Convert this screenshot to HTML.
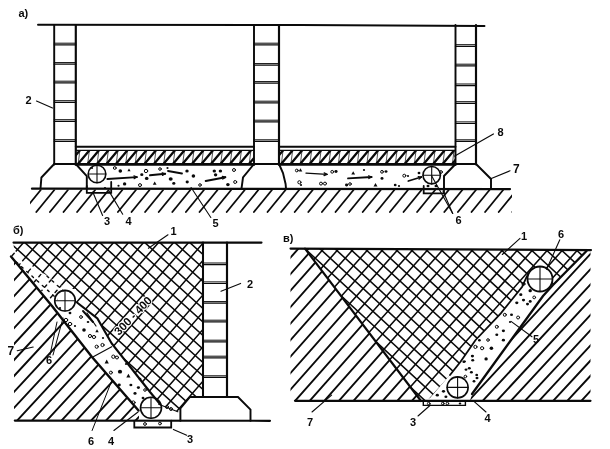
<!DOCTYPE html><html><head><meta charset="utf-8"><style>html,body{margin:0;padding:0;background:#fff;width:610px;height:449px;overflow:hidden}svg{display:block;will-change:transform}</style></head><body><svg width="610" height="449" viewBox="0 0 610 449" stroke="#0a0a0a" stroke-linecap="round" fill="none" font-family="'Liberation Sans', sans-serif"><defs><clipPath id="ga"><polygon points="30,189.5 512,189.5 512,213 30,213"/></clipPath><clipPath id="s1a"><polygon points="75.8,151 254,151 254,163.5 75.8,163.5"/></clipPath><clipPath id="s1b"><polygon points="75.8,151 254,151 254,163.5 75.8,163.5"/></clipPath><clipPath id="s2a"><polygon points="279,151 455.5,151 455.5,163.5 279,163.5"/></clipPath><clipPath id="s2b"><polygon points="279,151 455.5,151 455.5,163.5 279,163.5"/></clipPath><clipPath id="sb"><polygon points="11,256.5 92,357 139,411 139,420 14,420 14,258"/></clipPath><clipPath id="cb1"><polygon points="13.5,243 203,243 203,397 190,397 180.4,408.5 177.8,411.7 160,404 150,392 111.7,343.5 97.4,318.5 77,302.5 68,290 30,264 14,250 13.5,243"/></clipPath><clipPath id="cb2"><polygon points="13.5,243 203,243 203,397 190,397 180.4,408.5 177.8,411.7 160,404 150,392 111.7,343.5 97.4,318.5 77,302.5 68,290 30,264 14,250 13.5,243"/></clipPath><clipPath id="cbb1"><polygon points="11,250 14,250 30,264 68,290 62,292 54,305 11,256.5"/></clipPath><clipPath id="cbb2"><polygon points="11,250 14,250 30,264 68,290 62,292 54,305 11,256.5"/></clipPath><clipPath id="sv1"><polygon points="290.5,248.6 305,248.6 421,401 295,401 290.5,401"/></clipPath><clipPath id="sv2"><polygon points="586.5,251 553,285 543,296 472,394 470,401 590.5,401 590.5,251"/></clipPath><clipPath id="cv1"><polygon points="305,248.6 591,250 586.5,251 553,285 541,266 527,276 522.2,286.7 500.8,313.4 475.4,340.2 460.7,361.5 448,377 430,398 423,400.8 421,401"/></clipPath><clipPath id="cv2"><polygon points="305,248.6 591,250 586.5,251 553,285 541,266 527,276 522.2,286.7 500.8,313.4 475.4,340.2 460.7,361.5 448,377 430,398 423,400.8 421,401"/></clipPath></defs><rect width="610" height="449" fill="#fff" stroke="none"/><text x="18.5" y="17" font-size="11" font-weight="bold" stroke="none" fill="#0a0a0a">а)</text><polyline points="38,24.8 300,25 484.5,26" stroke-width="1.92" fill="none"/><g clip-path="url(#ga)" stroke-width="1.8"><line x1="13.5" y1="190" x2="-4.5" y2="212"/><line x1="27.1" y1="190" x2="9.1" y2="212"/><line x1="40.7" y1="190" x2="22.7" y2="212"/><line x1="54.3" y1="190" x2="36.3" y2="212"/><line x1="67.9" y1="190" x2="49.9" y2="212"/><line x1="81.5" y1="190" x2="63.5" y2="212"/><line x1="95.1" y1="190" x2="77.1" y2="212"/><line x1="108.7" y1="190" x2="90.7" y2="212"/><line x1="122.3" y1="190" x2="104.3" y2="212"/><line x1="135.9" y1="190" x2="117.9" y2="212"/><line x1="149.5" y1="190" x2="131.5" y2="212"/><line x1="163.1" y1="190" x2="145.1" y2="212"/><line x1="176.7" y1="190" x2="158.7" y2="212"/><line x1="190.3" y1="190" x2="172.3" y2="212"/><line x1="203.9" y1="190" x2="185.9" y2="212"/><line x1="217.5" y1="190" x2="199.5" y2="212"/><line x1="231.1" y1="190" x2="213.1" y2="212"/><line x1="244.7" y1="190" x2="226.7" y2="212"/><line x1="258.3" y1="190" x2="240.3" y2="212"/><line x1="271.9" y1="190" x2="253.9" y2="212"/><line x1="285.5" y1="190" x2="267.5" y2="212"/><line x1="299.1" y1="190" x2="281.1" y2="212"/><line x1="312.7" y1="190" x2="294.7" y2="212"/><line x1="326.3" y1="190" x2="308.3" y2="212"/><line x1="339.9" y1="190" x2="321.9" y2="212"/><line x1="353.5" y1="190" x2="335.5" y2="212"/><line x1="367.1" y1="190" x2="349.1" y2="212"/><line x1="380.7" y1="190" x2="362.7" y2="212"/><line x1="394.3" y1="190" x2="376.3" y2="212"/><line x1="407.9" y1="190" x2="389.9" y2="212"/><line x1="421.5" y1="190" x2="403.5" y2="212"/><line x1="435.1" y1="190" x2="417.1" y2="212"/><line x1="448.7" y1="190" x2="430.7" y2="212"/><line x1="462.3" y1="190" x2="444.3" y2="212"/><line x1="475.9" y1="190" x2="457.9" y2="212"/><line x1="489.5" y1="190" x2="471.5" y2="212"/><line x1="503.1" y1="190" x2="485.1" y2="212"/><line x1="516.7" y1="190" x2="498.7" y2="212"/><line x1="530.3" y1="190" x2="512.3" y2="212"/><line x1="543.9" y1="190" x2="525.9" y2="212"/><line x1="557.5" y1="190" x2="539.5" y2="212"/></g><line x1="32" y1="188.7" x2="510" y2="189.1" stroke-width="2.28"/><line x1="54.2" y1="25" x2="54.2" y2="164.5" stroke-width="1.92"/><line x1="75.8" y1="25" x2="75.8" y2="164.5" stroke-width="2.16"/><line x1="54.2" y1="43.2" x2="75.8" y2="43.2" stroke-width="1.0"/><line x1="54.2" y1="44.8" x2="75.8" y2="44.8" stroke-width="1.2"/><line x1="54.2" y1="62.6" x2="75.8" y2="62.6" stroke-width="1.0"/><line x1="54.2" y1="64.2" x2="75.8" y2="64.2" stroke-width="1.2"/><line x1="54.2" y1="81.2" x2="75.8" y2="81.2" stroke-width="1.0"/><line x1="54.2" y1="82.8" x2="75.8" y2="82.8" stroke-width="1.2"/><line x1="54.2" y1="100.7" x2="75.8" y2="100.7" stroke-width="1.0"/><line x1="54.2" y1="102.3" x2="75.8" y2="102.3" stroke-width="1.2"/><line x1="54.2" y1="119.7" x2="75.8" y2="119.7" stroke-width="1.0"/><line x1="54.2" y1="121.3" x2="75.8" y2="121.3" stroke-width="1.2"/><line x1="54.2" y1="139.7" x2="75.8" y2="139.7" stroke-width="1.0"/><line x1="54.2" y1="141.3" x2="75.8" y2="141.3" stroke-width="1.2"/><line x1="54.2" y1="164" x2="75.8" y2="164" stroke-width="1.92"/><line x1="254" y1="25" x2="254" y2="164.5" stroke-width="1.92"/><line x1="279" y1="25" x2="279" y2="164.5" stroke-width="2.16"/><line x1="254" y1="43.2" x2="279" y2="43.2" stroke-width="1.0"/><line x1="254" y1="44.8" x2="279" y2="44.8" stroke-width="1.2"/><line x1="254" y1="63.6" x2="279" y2="63.6" stroke-width="1.0"/><line x1="254" y1="65.2" x2="279" y2="65.2" stroke-width="1.2"/><line x1="254" y1="81.6" x2="279" y2="81.6" stroke-width="1.0"/><line x1="254" y1="83.2" x2="279" y2="83.2" stroke-width="1.2"/><line x1="254" y1="101.2" x2="279" y2="101.2" stroke-width="1.0"/><line x1="254" y1="102.8" x2="279" y2="102.8" stroke-width="1.2"/><line x1="254" y1="120.2" x2="279" y2="120.2" stroke-width="1.0"/><line x1="254" y1="121.8" x2="279" y2="121.8" stroke-width="1.2"/><line x1="254" y1="139.8" x2="279" y2="139.8" stroke-width="1.0"/><line x1="254" y1="141.4" x2="279" y2="141.4" stroke-width="1.2"/><line x1="254" y1="164" x2="279" y2="164" stroke-width="1.92"/><line x1="455.5" y1="25" x2="455.5" y2="164.5" stroke-width="1.92"/><line x1="476" y1="25" x2="476" y2="164.5" stroke-width="2.16"/><line x1="455.5" y1="44.7" x2="476" y2="44.7" stroke-width="1.0"/><line x1="455.5" y1="46.3" x2="476" y2="46.3" stroke-width="1.2"/><line x1="455.5" y1="64.2" x2="476" y2="64.2" stroke-width="1.0"/><line x1="455.5" y1="65.8" x2="476" y2="65.8" stroke-width="1.2"/><line x1="455.5" y1="84" x2="476" y2="84" stroke-width="1.0"/><line x1="455.5" y1="85.6" x2="476" y2="85.6" stroke-width="1.2"/><line x1="455.5" y1="101.7" x2="476" y2="101.7" stroke-width="1.0"/><line x1="455.5" y1="103.3" x2="476" y2="103.3" stroke-width="1.2"/><line x1="455.5" y1="121.9" x2="476" y2="121.9" stroke-width="1.0"/><line x1="455.5" y1="123.5" x2="476" y2="123.5" stroke-width="1.2"/><line x1="455.5" y1="139.8" x2="476" y2="139.8" stroke-width="1.0"/><line x1="455.5" y1="141.4" x2="476" y2="141.4" stroke-width="1.2"/><line x1="455.5" y1="164" x2="476" y2="164" stroke-width="1.92"/><polyline points="54.2,164 41.4,177.5 40.5,188.6" stroke-width="1.92" fill="none"/><polyline points="75.8,164 86.8,176 86.8,188.6" stroke-width="1.92" fill="none"/><polyline points="254,164 243,177.5 241.5,188.6" stroke-width="1.92" fill="none"/><polyline points="279,164 283,173 285.6,184 286,188.6" stroke-width="1.92" fill="none"/><polyline points="455.6,164 444,176 444,188.8" stroke-width="1.92" fill="none"/><polyline points="476,164 491,179 491,188.6" stroke-width="1.92" fill="none"/><line x1="75.8" y1="146.8" x2="254" y2="146.8" stroke-width="1.92"/><line x1="75.8" y1="150.4" x2="254" y2="150.4" stroke-width="1.2"/><g clip-path="url(#s1a)" stroke-width="2.3"><line x1="62" y1="149" x2="48.2" y2="165.5"/><line x1="71.5" y1="149" x2="57.7" y2="165.5"/><line x1="81" y1="149" x2="67.2" y2="165.5"/><line x1="90.5" y1="149" x2="76.7" y2="165.5"/><line x1="100" y1="149" x2="86.2" y2="165.5"/><line x1="109.5" y1="149" x2="95.7" y2="165.5"/><line x1="119" y1="149" x2="105.2" y2="165.5"/><line x1="128.5" y1="149" x2="114.7" y2="165.5"/><line x1="138" y1="149" x2="124.2" y2="165.5"/><line x1="147.5" y1="149" x2="133.7" y2="165.5"/><line x1="157" y1="149" x2="143.2" y2="165.5"/><line x1="166.5" y1="149" x2="152.7" y2="165.5"/><line x1="176" y1="149" x2="162.2" y2="165.5"/><line x1="185.5" y1="149" x2="171.7" y2="165.5"/><line x1="195" y1="149" x2="181.2" y2="165.5"/><line x1="204.5" y1="149" x2="190.7" y2="165.5"/><line x1="214" y1="149" x2="200.2" y2="165.5"/><line x1="223.5" y1="149" x2="209.7" y2="165.5"/><line x1="233" y1="149" x2="219.2" y2="165.5"/><line x1="242.5" y1="149" x2="228.7" y2="165.5"/><line x1="252" y1="149" x2="238.2" y2="165.5"/><line x1="261.5" y1="149" x2="247.7" y2="165.5"/><line x1="271" y1="149" x2="257.2" y2="165.5"/><line x1="280.5" y1="149" x2="266.7" y2="165.5"/></g><g clip-path="url(#s1b)" stroke-width="0.7"><line x1="61" y1="149" x2="59" y2="165.5"/><line x1="70.5" y1="149" x2="68.5" y2="165.5"/><line x1="80" y1="149" x2="78" y2="165.5"/><line x1="89.5" y1="149" x2="87.5" y2="165.5"/><line x1="99" y1="149" x2="97" y2="165.5"/><line x1="108.5" y1="149" x2="106.5" y2="165.5"/><line x1="118.1" y1="149" x2="116" y2="165.5"/><line x1="127.6" y1="149" x2="125.5" y2="165.5"/><line x1="137.1" y1="149" x2="135" y2="165.5"/><line x1="146.6" y1="149" x2="144.5" y2="165.5"/><line x1="156.1" y1="149" x2="154" y2="165.5"/><line x1="165.6" y1="149" x2="163.5" y2="165.5"/><line x1="175.1" y1="149" x2="173" y2="165.5"/><line x1="184.6" y1="149" x2="182.5" y2="165.5"/><line x1="194.1" y1="149" x2="192" y2="165.5"/><line x1="203.6" y1="149" x2="201.5" y2="165.5"/><line x1="213.1" y1="149" x2="211" y2="165.5"/><line x1="222.6" y1="149" x2="220.5" y2="165.5"/><line x1="232.1" y1="149" x2="230" y2="165.5"/><line x1="241.6" y1="149" x2="239.5" y2="165.5"/><line x1="251.1" y1="149" x2="249" y2="165.5"/><line x1="260.6" y1="149" x2="258.5" y2="165.5"/><line x1="270.1" y1="149" x2="268" y2="165.5"/></g><line x1="75.8" y1="164.4" x2="254" y2="164.4" stroke-width="2.64"/><line x1="279" y1="146.8" x2="455.5" y2="146.8" stroke-width="1.92"/><line x1="279" y1="150.4" x2="455.5" y2="150.4" stroke-width="1.2"/><g clip-path="url(#s2a)" stroke-width="2.3"><line x1="265.2" y1="149" x2="251.4" y2="165.5"/><line x1="274.7" y1="149" x2="260.9" y2="165.5"/><line x1="284.2" y1="149" x2="270.4" y2="165.5"/><line x1="293.7" y1="149" x2="279.9" y2="165.5"/><line x1="303.2" y1="149" x2="289.4" y2="165.5"/><line x1="312.7" y1="149" x2="298.9" y2="165.5"/><line x1="322.2" y1="149" x2="308.4" y2="165.5"/><line x1="331.7" y1="149" x2="317.9" y2="165.5"/><line x1="341.2" y1="149" x2="327.4" y2="165.5"/><line x1="350.7" y1="149" x2="336.9" y2="165.5"/><line x1="360.2" y1="149" x2="346.4" y2="165.5"/><line x1="369.7" y1="149" x2="355.9" y2="165.5"/><line x1="379.2" y1="149" x2="365.4" y2="165.5"/><line x1="388.7" y1="149" x2="374.9" y2="165.5"/><line x1="398.2" y1="149" x2="384.4" y2="165.5"/><line x1="407.7" y1="149" x2="393.9" y2="165.5"/><line x1="417.2" y1="149" x2="403.4" y2="165.5"/><line x1="426.7" y1="149" x2="412.9" y2="165.5"/><line x1="436.2" y1="149" x2="422.4" y2="165.5"/><line x1="445.7" y1="149" x2="431.9" y2="165.5"/><line x1="455.2" y1="149" x2="441.4" y2="165.5"/><line x1="464.7" y1="149" x2="450.9" y2="165.5"/><line x1="474.2" y1="149" x2="460.4" y2="165.5"/><line x1="483.7" y1="149" x2="469.9" y2="165.5"/></g><g clip-path="url(#s2b)" stroke-width="0.7"><line x1="264.2" y1="149" x2="262.2" y2="165.5"/><line x1="273.8" y1="149" x2="271.7" y2="165.5"/><line x1="283.2" y1="149" x2="281.2" y2="165.5"/><line x1="292.8" y1="149" x2="290.7" y2="165.5"/><line x1="302.2" y1="149" x2="300.2" y2="165.5"/><line x1="311.8" y1="149" x2="309.7" y2="165.5"/><line x1="321.2" y1="149" x2="319.2" y2="165.5"/><line x1="330.8" y1="149" x2="328.7" y2="165.5"/><line x1="340.2" y1="149" x2="338.2" y2="165.5"/><line x1="349.8" y1="149" x2="347.7" y2="165.5"/><line x1="359.2" y1="149" x2="357.2" y2="165.5"/><line x1="368.8" y1="149" x2="366.7" y2="165.5"/><line x1="378.2" y1="149" x2="376.2" y2="165.5"/><line x1="387.8" y1="149" x2="385.7" y2="165.5"/><line x1="397.2" y1="149" x2="395.2" y2="165.5"/><line x1="406.8" y1="149" x2="404.7" y2="165.5"/><line x1="416.2" y1="149" x2="414.2" y2="165.5"/><line x1="425.8" y1="149" x2="423.7" y2="165.5"/><line x1="435.2" y1="149" x2="433.2" y2="165.5"/><line x1="444.8" y1="149" x2="442.7" y2="165.5"/><line x1="454.2" y1="149" x2="452.2" y2="165.5"/><line x1="463.8" y1="149" x2="461.7" y2="165.5"/><line x1="473.2" y1="149" x2="471.2" y2="165.5"/></g><line x1="279" y1="164.4" x2="455.5" y2="164.4" stroke-width="2.64"/><circle cx="114.8" cy="168" r="1.4" fill="none" stroke-width="1"/><ellipse cx="120.3" cy="171" rx="1.8" ry="1.7" fill="#0a0a0a" stroke="none"/><circle cx="146" cy="171" r="1.7" fill="none" stroke-width="1"/><ellipse cx="141.8" cy="174.7" rx="1.6" ry="1.4" fill="#0a0a0a" stroke="none"/><ellipse cx="146.7" cy="178.4" rx="1.8" ry="1.7" fill="#0a0a0a" stroke="none"/><ellipse cx="170.7" cy="179" rx="2" ry="1.8" fill="#0a0a0a" stroke="none"/><ellipse cx="124.6" cy="183.9" rx="1.7" ry="1.6" fill="#0a0a0a" stroke="none"/><circle cx="140" cy="185.1" r="1.5" fill="none" stroke-width="1"/><polygon points="154.7,181.4 156.6,184.8 152.8,184.8" fill="#0a0a0a" stroke="none"/><ellipse cx="118.5" cy="185.8" rx="1.1" ry="1" fill="#0a0a0a" stroke="none"/><ellipse cx="167.5" cy="168" rx="1.1" ry="1" fill="#0a0a0a" stroke="none"/><ellipse cx="187" cy="171" rx="1.7" ry="1.6" fill="#0a0a0a" stroke="none"/><ellipse cx="193.4" cy="176" rx="1.8" ry="1.7" fill="#0a0a0a" stroke="none"/><ellipse cx="173.8" cy="183.4" rx="1.6" ry="1.4" fill="#0a0a0a" stroke="none"/><ellipse cx="187.2" cy="182" rx="1.6" ry="1.4" fill="#0a0a0a" stroke="none"/><ellipse cx="214.3" cy="171" rx="1.7" ry="1.6" fill="#0a0a0a" stroke="none"/><ellipse cx="220.4" cy="171" rx="1.7" ry="1.6" fill="#0a0a0a" stroke="none"/><ellipse cx="215.6" cy="174.8" rx="1.7" ry="1.6" fill="#0a0a0a" stroke="none"/><ellipse cx="227.9" cy="184.6" rx="1.8" ry="1.7" fill="#0a0a0a" stroke="none"/><circle cx="235.2" cy="182" r="1.5" fill="none" stroke-width="1"/><circle cx="200" cy="185" r="1.3" fill="none" stroke-width="1"/><polygon points="129,168.4 130.6,171.2 127.4,171.2" fill="#0a0a0a" stroke="none"/><circle cx="160" cy="169" r="1.3" fill="none" stroke-width="1"/><circle cx="234" cy="170" r="1.5" fill="none" stroke-width="1"/><ellipse cx="92" cy="168" rx="1.1" ry="1" fill="#0a0a0a" stroke="none"/><ellipse cx="105" cy="188" rx="1.1" ry="1" fill="#0a0a0a" stroke="none"/><line x1="107.4" y1="179" x2="136.9" y2="177.1" stroke-width="1.92"/><line x1="136.9" y1="177.1" x2="134.1" y2="178.7" stroke-width="1.2"/><line x1="136.9" y1="177.1" x2="133.9" y2="175.9" stroke-width="1.2"/><line x1="150" y1="175.3" x2="165.2" y2="173.8" stroke-width="1.92"/><line x1="165.2" y1="173.8" x2="162.5" y2="175.4" stroke-width="1.2"/><line x1="165.2" y1="173.8" x2="162.2" y2="172.7" stroke-width="1.2"/><line x1="205.7" y1="181" x2="225.4" y2="177.2" stroke-width="1.92"/><line x1="225.4" y1="177.2" x2="222.8" y2="179.1" stroke-width="1.2"/><line x1="225.4" y1="177.2" x2="222.3" y2="176.4" stroke-width="1.2"/><line x1="168" y1="171" x2="182" y2="173.5" stroke-width="1.8"/><circle cx="296.8" cy="170.5" r="1.4" fill="none" stroke-width="1"/><polygon points="300.5,168.2 302.3,171.4 298.7,171.4" fill="#0a0a0a" stroke="none"/><circle cx="332.2" cy="171.8" r="1.4" fill="none" stroke-width="1"/><ellipse cx="336" cy="171.5" rx="1.6" ry="1.4" fill="#0a0a0a" stroke="none"/><circle cx="299.4" cy="182.3" r="1.6" fill="none" stroke-width="1"/><ellipse cx="301" cy="185" rx="1.1" ry="1" fill="#0a0a0a" stroke="none"/><circle cx="321" cy="183.6" r="1.5" fill="none" stroke-width="1"/><circle cx="325" cy="183.6" r="1.5" fill="none" stroke-width="1"/><polygon points="353.2,171.2 355.1,174.6 351.3,174.6" fill="#0a0a0a" stroke="none"/><circle cx="382" cy="171.8" r="1.4" fill="none" stroke-width="1"/><ellipse cx="386" cy="171.5" rx="1.5" ry="1.3" fill="#0a0a0a" stroke="none"/><ellipse cx="382" cy="178.4" rx="1.5" ry="1.3" fill="#0a0a0a" stroke="none"/><ellipse cx="346.6" cy="185" rx="1.6" ry="1.4" fill="#0a0a0a" stroke="none"/><circle cx="350" cy="184" r="1.3" fill="none" stroke-width="1"/><polygon points="375.5,183 377.5,186.6 373.5,186.6" fill="#0a0a0a" stroke="none"/><circle cx="404.3" cy="175.7" r="1.5" fill="none" stroke-width="1"/><ellipse cx="408" cy="176" rx="1.1" ry="1" fill="#0a0a0a" stroke="none"/><ellipse cx="395.2" cy="185" rx="1.4" ry="1.2" fill="#0a0a0a" stroke="none"/><ellipse cx="399" cy="186" rx="1.1" ry="1" fill="#0a0a0a" stroke="none"/><ellipse cx="364" cy="170" rx="1.1" ry="1" fill="#0a0a0a" stroke="none"/><ellipse cx="419" cy="173" rx="1.4" ry="1.2" fill="#0a0a0a" stroke="none"/><ellipse cx="428" cy="186" rx="1.5" ry="1.3" fill="#0a0a0a" stroke="none"/><ellipse cx="436" cy="186" rx="1.5" ry="1.3" fill="#0a0a0a" stroke="none"/><circle cx="441" cy="172" r="1.4" fill="none" stroke-width="1"/><line x1="306" y1="173.1" x2="327" y2="174.4" stroke-width="1.4"/><line x1="327" y1="174.4" x2="324" y2="175.6" stroke-width="1.2"/><line x1="327" y1="174.4" x2="324.2" y2="172.9" stroke-width="1.2"/><line x1="348" y1="178.4" x2="371.6" y2="177" stroke-width="1.8"/><line x1="371.6" y1="177" x2="368.8" y2="178.5" stroke-width="1.2"/><line x1="371.6" y1="177" x2="368.6" y2="175.8" stroke-width="1.2"/><line x1="408.3" y1="181" x2="421.4" y2="177" stroke-width="1.8"/><line x1="421.4" y1="177" x2="419" y2="179.2" stroke-width="1.2"/><line x1="421.4" y1="177" x2="418.2" y2="176.5" stroke-width="1.2"/><circle cx="97" cy="174" r="8.8" stroke-width="1.6" fill="none"/><line x1="88.2" y1="174" x2="105.8" y2="174" stroke-width="1.1"/><line x1="97" y1="165.2" x2="97" y2="182.8" stroke-width="1.1"/><polyline points="86.8,186 86.8,192.8 111.2,192.8 111.2,182" stroke-width="1.8" fill="none"/><circle cx="431.7" cy="175.2" r="8.7" stroke-width="1.6" fill="none"/><line x1="423" y1="175.2" x2="440.4" y2="175.2" stroke-width="1.1"/><line x1="431.7" y1="166.5" x2="431.7" y2="183.9" stroke-width="1.1"/><polyline points="423.7,186 423.7,193.3 444,193.3 444,188" stroke-width="1.8" fill="none"/><text x="25.5" y="104" font-size="11" font-weight="bold" stroke="none" fill="#0a0a0a">2</text><line x1="36.5" y1="101" x2="52.5" y2="108" stroke-width="1.1"/><text x="104" y="225" font-size="11" font-weight="bold" stroke="none" fill="#0a0a0a">3</text><line x1="102.6" y1="215.5" x2="92.8" y2="192" stroke-width="1.1"/><text x="125.5" y="225" font-size="11" font-weight="bold" stroke="none" fill="#0a0a0a">4</text><line x1="122.7" y1="214.2" x2="109" y2="191.1" stroke-width="1.1"/><text x="212.5" y="227" font-size="11" font-weight="bold" stroke="none" fill="#0a0a0a">5</text><line x1="210.8" y1="217.5" x2="191.1" y2="187.5" stroke-width="1.1"/><text x="455.5" y="224" font-size="11" font-weight="bold" stroke="none" fill="#0a0a0a">6</text><line x1="452.7" y1="213.5" x2="431.7" y2="176" stroke-width="1.1"/><line x1="452.7" y1="213.5" x2="443" y2="191" stroke-width="1.1"/><text x="513" y="173" font-size="12" font-weight="bold" stroke="none" fill="#0a0a0a">7</text><line x1="510" y1="170.8" x2="490.7" y2="178.8" stroke-width="1.2"/><text x="497.5" y="136" font-size="11" font-weight="bold" stroke="none" fill="#0a0a0a">8</text><line x1="493.4" y1="134" x2="454.8" y2="156.1" stroke-width="1.2"/><text x="13" y="234" font-size="11" font-weight="bold" stroke="none" fill="#0a0a0a">б)</text><g clip-path="url(#sb)" stroke-width="1.9"><line x1="-6.7" y1="254.5" x2="-161.8" y2="422"/><line x1="8.1" y1="254.5" x2="-147" y2="422"/><line x1="22.9" y1="254.5" x2="-132.2" y2="422"/><line x1="37.7" y1="254.5" x2="-117.4" y2="422"/><line x1="52.5" y1="254.5" x2="-102.6" y2="422"/><line x1="67.3" y1="254.5" x2="-87.8" y2="422"/><line x1="82.1" y1="254.5" x2="-73" y2="422"/><line x1="96.9" y1="254.5" x2="-58.2" y2="422"/><line x1="111.7" y1="254.5" x2="-43.4" y2="422"/><line x1="126.5" y1="254.5" x2="-28.6" y2="422"/><line x1="141.3" y1="254.5" x2="-13.8" y2="422"/><line x1="156.1" y1="254.5" x2="1" y2="422"/><line x1="170.9" y1="254.5" x2="15.8" y2="422"/><line x1="185.7" y1="254.5" x2="30.6" y2="422"/><line x1="200.5" y1="254.5" x2="45.4" y2="422"/><line x1="215.3" y1="254.5" x2="60.2" y2="422"/><line x1="230.1" y1="254.5" x2="75" y2="422"/><line x1="244.9" y1="254.5" x2="89.8" y2="422"/><line x1="259.7" y1="254.5" x2="104.6" y2="422"/><line x1="274.5" y1="254.5" x2="119.4" y2="422"/><line x1="289.3" y1="254.5" x2="134.2" y2="422"/><line x1="304.1" y1="254.5" x2="149" y2="422"/><line x1="318.9" y1="254.5" x2="163.8" y2="422"/></g><g clip-path="url(#cb1)" stroke-width="1.55"><line x1="-5.1" y1="241" x2="-155.3" y2="413.7"/><line x1="9.9" y1="241" x2="-140.3" y2="413.7"/><line x1="24.9" y1="241" x2="-125.3" y2="413.7"/><line x1="39.9" y1="241" x2="-110.3" y2="413.7"/><line x1="54.9" y1="241" x2="-95.3" y2="413.7"/><line x1="69.9" y1="241" x2="-80.3" y2="413.7"/><line x1="84.9" y1="241" x2="-65.3" y2="413.7"/><line x1="99.9" y1="241" x2="-50.3" y2="413.7"/><line x1="114.9" y1="241" x2="-35.3" y2="413.7"/><line x1="129.9" y1="241" x2="-20.3" y2="413.7"/><line x1="144.9" y1="241" x2="-5.3" y2="413.7"/><line x1="159.9" y1="241" x2="9.7" y2="413.7"/><line x1="174.9" y1="241" x2="24.7" y2="413.7"/><line x1="189.9" y1="241" x2="39.7" y2="413.7"/><line x1="204.9" y1="241" x2="54.7" y2="413.7"/><line x1="219.9" y1="241" x2="69.7" y2="413.7"/><line x1="234.9" y1="241" x2="84.7" y2="413.7"/><line x1="249.9" y1="241" x2="99.7" y2="413.7"/><line x1="264.9" y1="241" x2="114.7" y2="413.7"/><line x1="279.9" y1="241" x2="129.7" y2="413.7"/><line x1="294.9" y1="241" x2="144.7" y2="413.7"/><line x1="309.9" y1="241" x2="159.7" y2="413.7"/><line x1="324.9" y1="241" x2="174.7" y2="413.7"/><line x1="339.9" y1="241" x2="189.7" y2="413.7"/><line x1="354.9" y1="241" x2="204.7" y2="413.7"/><line x1="369.9" y1="241" x2="219.7" y2="413.7"/><line x1="384.9" y1="241" x2="234.7" y2="413.7"/></g><g clip-path="url(#cb2)" stroke-width="1.55"><line x1="-202" y1="241" x2="-10.1" y2="413.7"/><line x1="-187" y1="241" x2="4.9" y2="413.7"/><line x1="-172" y1="241" x2="19.9" y2="413.7"/><line x1="-157" y1="241" x2="34.9" y2="413.7"/><line x1="-142" y1="241" x2="49.9" y2="413.7"/><line x1="-127" y1="241" x2="64.9" y2="413.7"/><line x1="-112" y1="241" x2="79.9" y2="413.7"/><line x1="-97" y1="241" x2="94.9" y2="413.7"/><line x1="-82" y1="241" x2="109.9" y2="413.7"/><line x1="-67" y1="241" x2="124.9" y2="413.7"/><line x1="-52" y1="241" x2="139.9" y2="413.7"/><line x1="-37" y1="241" x2="154.9" y2="413.7"/><line x1="-22" y1="241" x2="169.9" y2="413.7"/><line x1="-7" y1="241" x2="184.9" y2="413.7"/><line x1="8" y1="241" x2="199.9" y2="413.7"/><line x1="23" y1="241" x2="214.9" y2="413.7"/><line x1="38" y1="241" x2="229.9" y2="413.7"/><line x1="53" y1="241" x2="244.9" y2="413.7"/><line x1="68" y1="241" x2="259.9" y2="413.7"/><line x1="83" y1="241" x2="274.9" y2="413.7"/><line x1="98" y1="241" x2="289.9" y2="413.7"/><line x1="113" y1="241" x2="304.9" y2="413.7"/><line x1="128" y1="241" x2="319.9" y2="413.7"/><line x1="143" y1="241" x2="334.9" y2="413.7"/><line x1="158" y1="241" x2="349.9" y2="413.7"/><line x1="173" y1="241" x2="364.9" y2="413.7"/><line x1="188" y1="241" x2="379.9" y2="413.7"/><line x1="203" y1="241" x2="394.9" y2="413.7"/><line x1="218" y1="241" x2="409.9" y2="413.7"/><line x1="233" y1="241" x2="424.9" y2="413.7"/></g><g clip-path="url(#cbb1)" stroke-width="1.4"><line x1="-11.2" y1="248" x2="-62.5" y2="307" stroke-dasharray="3 4"/><line x1="3.8" y1="248" x2="-47.5" y2="307" stroke-dasharray="3 4"/><line x1="18.8" y1="248" x2="-32.5" y2="307" stroke-dasharray="3 4"/><line x1="33.8" y1="248" x2="-17.5" y2="307" stroke-dasharray="3 4"/><line x1="48.8" y1="248" x2="-2.5" y2="307" stroke-dasharray="3 4"/><line x1="63.8" y1="248" x2="12.5" y2="307" stroke-dasharray="3 4"/><line x1="78.8" y1="248" x2="27.5" y2="307" stroke-dasharray="3 4"/><line x1="93.8" y1="248" x2="42.5" y2="307" stroke-dasharray="3 4"/><line x1="108.8" y1="248" x2="57.5" y2="307" stroke-dasharray="3 4"/><line x1="123.8" y1="248" x2="72.5" y2="307" stroke-dasharray="3 4"/><line x1="138.8" y1="248" x2="87.5" y2="307" stroke-dasharray="3 4"/></g><g clip-path="url(#cbb2)" stroke-width="1.4"><line x1="-74.3" y1="248" x2="-8.7" y2="307" stroke-dasharray="2 5"/><line x1="-59.3" y1="248" x2="6.3" y2="307" stroke-dasharray="2 5"/><line x1="-44.3" y1="248" x2="21.3" y2="307" stroke-dasharray="2 5"/><line x1="-29.3" y1="248" x2="36.3" y2="307" stroke-dasharray="2 5"/><line x1="-14.3" y1="248" x2="51.3" y2="307" stroke-dasharray="2 5"/><line x1="0.7" y1="248" x2="66.3" y2="307" stroke-dasharray="2 5"/><line x1="15.7" y1="248" x2="81.3" y2="307" stroke-dasharray="2 5"/><line x1="30.7" y1="248" x2="96.3" y2="307" stroke-dasharray="2 5"/><line x1="45.7" y1="248" x2="111.3" y2="307" stroke-dasharray="2 5"/><line x1="60.7" y1="248" x2="126.3" y2="307" stroke-dasharray="2 5"/><line x1="75.7" y1="248" x2="141.3" y2="307" stroke-dasharray="2 5"/><line x1="90.7" y1="248" x2="156.3" y2="307" stroke-dasharray="2 5"/></g><circle cx="96.7" cy="346.7" r="1.6" fill="none" stroke-width="1"/><circle cx="102.5" cy="345" r="1.6" fill="none" stroke-width="1"/><circle cx="113.4" cy="356.7" r="1.7" fill="none" stroke-width="1"/><circle cx="117" cy="357.5" r="1.5" fill="none" stroke-width="1"/><polygon points="106.7,359.6 108.8,363.4 104.6,363.4" fill="#0a0a0a" stroke="none"/><circle cx="110.9" cy="372.6" r="1.5" fill="none" stroke-width="1"/><ellipse cx="120" cy="371.7" rx="2.1" ry="1.9" fill="#0a0a0a" stroke="none"/><polygon points="128.4,373.8 130.5,377.6 126.3,377.6" fill="#0a0a0a" stroke="none"/><ellipse cx="119.2" cy="385" rx="1.6" ry="1.4" fill="#0a0a0a" stroke="none"/><ellipse cx="130.9" cy="385" rx="1.5" ry="1.3" fill="#0a0a0a" stroke="none"/><ellipse cx="138.4" cy="387.6" rx="1.6" ry="1.4" fill="#0a0a0a" stroke="none"/><ellipse cx="135" cy="393.4" rx="1.6" ry="1.4" fill="#0a0a0a" stroke="none"/><circle cx="133.4" cy="402.6" r="1.7" fill="none" stroke-width="1"/><ellipse cx="143" cy="398" rx="1.4" ry="1.2" fill="#0a0a0a" stroke="none"/><circle cx="66" cy="320" r="1.7" fill="none" stroke-width="1"/><circle cx="70" cy="324" r="1.7" fill="none" stroke-width="1"/><circle cx="81" cy="317" r="1.4" fill="none" stroke-width="1"/><ellipse cx="84" cy="330" rx="1.8" ry="1.7" fill="#0a0a0a" stroke="none"/><ellipse cx="75" cy="326" rx="1.1" ry="1" fill="#0a0a0a" stroke="none"/><circle cx="90" cy="336" r="1.6" fill="none" stroke-width="1"/><circle cx="94" cy="337" r="1.6" fill="none" stroke-width="1"/><ellipse cx="88" cy="322" rx="1.3" ry="1.1" fill="#0a0a0a" stroke="none"/><polygon points="97,329.3 98.7,332.3 95.3,332.3" fill="#0a0a0a" stroke="none"/><ellipse cx="103" cy="338" rx="1.1" ry="1" fill="#0a0a0a" stroke="none"/><ellipse cx="70" cy="313" rx="1.4" ry="1.2" fill="#0a0a0a" stroke="none"/><ellipse cx="60" cy="308" rx="1.1" ry="1" fill="#0a0a0a" stroke="none"/><ellipse cx="126" cy="364" rx="1.1" ry="1" fill="#0a0a0a" stroke="none"/><ellipse cx="140" cy="379" rx="1.4" ry="1.2" fill="#0a0a0a" stroke="none"/><circle cx="145" cy="390" r="1.3" fill="none" stroke-width="1"/><line x1="83" y1="311" x2="93" y2="322" stroke-width="1.92"/><line x1="87" y1="313" x2="96" y2="326" stroke-width="1.2"/><polyline points="11,256.5 52,306 92,357 138.5,410.5" stroke-width="2.4" fill="none"/><polyline points="77,302.5 97.4,318.5 111.7,343.5 150,392 160,404" stroke-width="2.16" fill="none"/><line x1="93.3" y1="356.7" x2="111.7" y2="346.7" stroke-width="1.2"/><line x1="13.5" y1="242.6" x2="261.5" y2="242.6" stroke-width="2.16"/><line x1="14.8" y1="420.6" x2="270" y2="420.8" stroke-width="2.16"/><line x1="203" y1="242.6" x2="203" y2="397" stroke-width="2.04"/><line x1="227" y1="242.6" x2="227" y2="397" stroke-width="2.16"/><line x1="203" y1="263" x2="227" y2="263" stroke-width="1.0"/><line x1="203" y1="264.6" x2="227" y2="264.6" stroke-width="1.2"/><line x1="203" y1="281.9" x2="227" y2="281.9" stroke-width="1.0"/><line x1="203" y1="283.5" x2="227" y2="283.5" stroke-width="1.2"/><line x1="203" y1="301.6" x2="227" y2="301.6" stroke-width="1.0"/><line x1="203" y1="303.2" x2="227" y2="303.2" stroke-width="1.2"/><line x1="203" y1="320.2" x2="227" y2="320.2" stroke-width="1.0"/><line x1="203" y1="321.8" x2="227" y2="321.8" stroke-width="1.2"/><line x1="203" y1="340.2" x2="227" y2="340.2" stroke-width="1.0"/><line x1="203" y1="341.8" x2="227" y2="341.8" stroke-width="1.2"/><line x1="203" y1="356.2" x2="227" y2="356.2" stroke-width="1.0"/><line x1="203" y1="357.8" x2="227" y2="357.8" stroke-width="1.2"/><line x1="203" y1="375.8" x2="227" y2="375.8" stroke-width="1.0"/><line x1="203" y1="377.4" x2="227" y2="377.4" stroke-width="1.2"/><polyline points="203,397 227,397" stroke-width="1.8" fill="none"/><polyline points="180.4,420.8 180.4,408.5 190,397 238,397 250.5,409.7 250.5,420.8" stroke-width="1.92" fill="none"/><circle cx="167" cy="407" r="1.5" fill="none" stroke-width="1"/><circle cx="171" cy="409" r="1.5" fill="none" stroke-width="1"/><line x1="158.7" y1="404.3" x2="177.8" y2="411.7" stroke-width="1.2"/><rect x="53" y="289" width="23" height="23" fill="#fff" stroke="none" clip-path="url(#cb1)"/><circle cx="65" cy="300.7" r="10.3" stroke-width="1.6" fill="none"/><line x1="54.7" y1="300.7" x2="75.3" y2="300.7" stroke-width="1.1"/><line x1="65" y1="290.4" x2="65" y2="311" stroke-width="1.1"/><circle cx="151" cy="407.8" r="10.5" stroke-width="1.6" fill="none"/><line x1="140.5" y1="407.8" x2="161.5" y2="407.8" stroke-width="1.1"/><line x1="151" y1="397.3" x2="151" y2="418.3" stroke-width="1.1"/><polyline points="134.3,420.6 134.3,427.5 171.2,427.5 171.2,420.6" stroke-width="1.8" fill="none"/><circle cx="145" cy="424" r="1.4" fill="none" stroke-width="1"/><circle cx="160" cy="423.5" r="1.4" fill="none" stroke-width="1"/><text x="170.5" y="235" font-size="11" font-weight="bold" stroke="none" fill="#0a0a0a">1</text><line x1="168" y1="234.8" x2="148.4" y2="248.3" stroke-width="1.1"/><text x="247" y="288" font-size="11" font-weight="bold" stroke="none" fill="#0a0a0a">2</text><line x1="240.6" y1="283.4" x2="221" y2="291.3" stroke-width="1.1"/><text x="7.5" y="354.5" font-size="12" font-weight="bold" stroke="none" fill="#0a0a0a">7</text><line x1="17.2" y1="350.7" x2="33.2" y2="347" stroke-width="1.1"/><text x="46" y="364" font-size="11" font-weight="bold" stroke="none" fill="#0a0a0a">6</text><line x1="50" y1="355" x2="57" y2="322" stroke-width="1.0"/><line x1="53" y1="355" x2="63" y2="318" stroke-width="1.0"/><text x="88" y="445" font-size="11" font-weight="bold" stroke="none" fill="#0a0a0a">6</text><line x1="92.1" y1="430.5" x2="111.6" y2="381.1" stroke-width="1.0"/><text x="108" y="445" font-size="11" font-weight="bold" stroke="none" fill="#0a0a0a">4</text><line x1="113.9" y1="430.5" x2="138" y2="412" stroke-width="1.1"/><text x="187" y="443" font-size="11" font-weight="bold" stroke="none" fill="#0a0a0a">3</text><line x1="186.7" y1="435.3" x2="173.4" y2="429.4" stroke-width="1.1"/><text x="0" y="0" font-size="11.5" font-weight="bold" stroke="#fff" stroke-width="2.2" paint-order="stroke" fill="#0a0a0a" letter-spacing="0" transform="translate(119,336) rotate(-46)">300 - 400</text><text x="283" y="242" font-size="11" font-weight="bold" stroke="none" fill="#0a0a0a">в)</text><g clip-path="url(#sv1)" stroke-width="1.9"><line x1="271" y1="246.6" x2="132.6" y2="403"/><line x1="285.6" y1="246.6" x2="147.2" y2="403"/><line x1="300.2" y1="246.6" x2="161.8" y2="403"/><line x1="314.8" y1="246.6" x2="176.4" y2="403"/><line x1="329.4" y1="246.6" x2="191" y2="403"/><line x1="344" y1="246.6" x2="205.6" y2="403"/><line x1="358.6" y1="246.6" x2="220.2" y2="403"/><line x1="373.2" y1="246.6" x2="234.8" y2="403"/><line x1="387.8" y1="246.6" x2="249.4" y2="403"/><line x1="402.4" y1="246.6" x2="264" y2="403"/><line x1="417" y1="246.6" x2="278.6" y2="403"/><line x1="431.6" y1="246.6" x2="293.2" y2="403"/><line x1="446.2" y1="246.6" x2="307.8" y2="403"/><line x1="460.8" y1="246.6" x2="322.4" y2="403"/><line x1="475.4" y1="246.6" x2="337" y2="403"/><line x1="490" y1="246.6" x2="351.6" y2="403"/><line x1="504.6" y1="246.6" x2="366.2" y2="403"/><line x1="519.2" y1="246.6" x2="380.8" y2="403"/><line x1="533.8" y1="246.6" x2="395.4" y2="403"/><line x1="548.4" y1="246.6" x2="410" y2="403"/><line x1="563" y1="246.6" x2="424.6" y2="403"/><line x1="577.6" y1="246.6" x2="439.2" y2="403"/></g><g clip-path="url(#sv2)" stroke-width="1.9"><line x1="440" y1="249" x2="297.4" y2="403"/><line x1="454.1" y1="249" x2="311.5" y2="403"/><line x1="468.2" y1="249" x2="325.6" y2="403"/><line x1="482.3" y1="249" x2="339.7" y2="403"/><line x1="496.4" y1="249" x2="353.8" y2="403"/><line x1="510.5" y1="249" x2="367.9" y2="403"/><line x1="524.6" y1="249" x2="382" y2="403"/><line x1="538.7" y1="249" x2="396.1" y2="403"/><line x1="552.8" y1="249" x2="410.2" y2="403"/><line x1="566.9" y1="249" x2="424.3" y2="403"/><line x1="581" y1="249" x2="438.4" y2="403"/><line x1="595.1" y1="249" x2="452.5" y2="403"/><line x1="609.2" y1="249" x2="466.6" y2="403"/><line x1="623.3" y1="249" x2="480.7" y2="403"/><line x1="637.4" y1="249" x2="494.8" y2="403"/><line x1="651.5" y1="249" x2="508.9" y2="403"/><line x1="665.6" y1="249" x2="523" y2="403"/><line x1="679.7" y1="249" x2="537.1" y2="403"/><line x1="693.8" y1="249" x2="551.2" y2="403"/><line x1="707.9" y1="249" x2="565.3" y2="403"/><line x1="722" y1="249" x2="579.4" y2="403"/><line x1="736.1" y1="249" x2="593.5" y2="403"/><line x1="750.2" y1="249" x2="607.6" y2="403"/></g><g clip-path="url(#cv1)" stroke-width="1.55"><line x1="280.6" y1="246.6" x2="141" y2="403"/><line x1="295.6" y1="246.6" x2="156" y2="403"/><line x1="310.6" y1="246.6" x2="171" y2="403"/><line x1="325.6" y1="246.6" x2="186" y2="403"/><line x1="340.6" y1="246.6" x2="201" y2="403"/><line x1="355.6" y1="246.6" x2="216" y2="403"/><line x1="370.6" y1="246.6" x2="231" y2="403"/><line x1="385.6" y1="246.6" x2="246" y2="403"/><line x1="400.6" y1="246.6" x2="261" y2="403"/><line x1="415.6" y1="246.6" x2="276" y2="403"/><line x1="430.6" y1="246.6" x2="291" y2="403"/><line x1="445.6" y1="246.6" x2="306" y2="403"/><line x1="460.6" y1="246.6" x2="321" y2="403"/><line x1="475.6" y1="246.6" x2="336" y2="403"/><line x1="490.6" y1="246.6" x2="351" y2="403"/><line x1="505.6" y1="246.6" x2="366" y2="403"/><line x1="520.6" y1="246.6" x2="381" y2="403"/><line x1="535.6" y1="246.6" x2="396" y2="403"/><line x1="550.6" y1="246.6" x2="411" y2="403"/><line x1="565.6" y1="246.6" x2="426" y2="403"/><line x1="580.6" y1="246.6" x2="441" y2="403"/><line x1="595.6" y1="246.6" x2="456" y2="403"/><line x1="610.6" y1="246.6" x2="471" y2="403"/><line x1="625.6" y1="246.6" x2="486" y2="403"/><line x1="640.6" y1="246.6" x2="501" y2="403"/><line x1="655.6" y1="246.6" x2="516" y2="403"/><line x1="670.6" y1="246.6" x2="531" y2="403"/><line x1="685.6" y1="246.6" x2="546" y2="403"/><line x1="700.6" y1="246.6" x2="561" y2="403"/><line x1="715.6" y1="246.6" x2="576" y2="403"/><line x1="730.6" y1="246.6" x2="591" y2="403"/><line x1="745.6" y1="246.6" x2="606" y2="403"/><line x1="760.6" y1="246.6" x2="621" y2="403"/></g><g clip-path="url(#cv2)" stroke-width="1.55"><line x1="107.6" y1="246.6" x2="277.6" y2="403"/><line x1="122.6" y1="246.6" x2="292.6" y2="403"/><line x1="137.6" y1="246.6" x2="307.6" y2="403"/><line x1="152.6" y1="246.6" x2="322.6" y2="403"/><line x1="167.6" y1="246.6" x2="337.6" y2="403"/><line x1="182.6" y1="246.6" x2="352.6" y2="403"/><line x1="197.6" y1="246.6" x2="367.6" y2="403"/><line x1="212.6" y1="246.6" x2="382.6" y2="403"/><line x1="227.6" y1="246.6" x2="397.6" y2="403"/><line x1="242.6" y1="246.6" x2="412.6" y2="403"/><line x1="257.6" y1="246.6" x2="427.6" y2="403"/><line x1="272.6" y1="246.6" x2="442.6" y2="403"/><line x1="287.6" y1="246.6" x2="457.6" y2="403"/><line x1="302.6" y1="246.6" x2="472.6" y2="403"/><line x1="317.6" y1="246.6" x2="487.6" y2="403"/><line x1="332.6" y1="246.6" x2="502.6" y2="403"/><line x1="347.6" y1="246.6" x2="517.6" y2="403"/><line x1="362.6" y1="246.6" x2="532.6" y2="403"/><line x1="377.6" y1="246.6" x2="547.6" y2="403"/><line x1="392.6" y1="246.6" x2="562.6" y2="403"/><line x1="407.6" y1="246.6" x2="577.6" y2="403"/><line x1="422.6" y1="246.6" x2="592.6" y2="403"/><line x1="437.6" y1="246.6" x2="607.6" y2="403"/><line x1="452.6" y1="246.6" x2="622.6" y2="403"/><line x1="467.6" y1="246.6" x2="637.6" y2="403"/><line x1="482.6" y1="246.6" x2="652.6" y2="403"/><line x1="497.6" y1="246.6" x2="667.6" y2="403"/><line x1="512.6" y1="246.6" x2="682.6" y2="403"/><line x1="527.6" y1="246.6" x2="697.6" y2="403"/><line x1="542.6" y1="246.6" x2="712.6" y2="403"/><line x1="557.6" y1="246.6" x2="727.6" y2="403"/><line x1="572.6" y1="246.6" x2="742.6" y2="403"/><line x1="587.6" y1="246.6" x2="757.6" y2="403"/><line x1="602.6" y1="246.6" x2="772.6" y2="403"/><line x1="617.6" y1="246.6" x2="787.6" y2="403"/></g><circle cx="523.5" cy="284" r="1.5" fill="none" stroke-width="1"/><ellipse cx="530.2" cy="290.7" rx="1.7" ry="1.6" fill="#0a0a0a" stroke="none"/><ellipse cx="520.8" cy="294.7" rx="1.6" ry="1.4" fill="#0a0a0a" stroke="none"/><ellipse cx="516.8" cy="302.8" rx="1.6" ry="1.4" fill="#0a0a0a" stroke="none"/><ellipse cx="523.5" cy="300.1" rx="1.6" ry="1.4" fill="#0a0a0a" stroke="none"/><ellipse cx="530.2" cy="301.4" rx="1.5" ry="1.3" fill="#0a0a0a" stroke="none"/><circle cx="534.2" cy="297.4" r="1.4" fill="none" stroke-width="1"/><ellipse cx="527.5" cy="304.1" rx="1.5" ry="1.3" fill="#0a0a0a" stroke="none"/><circle cx="504.8" cy="314.8" r="1.5" fill="none" stroke-width="1"/><ellipse cx="511.5" cy="314.8" rx="1.5" ry="1.3" fill="#0a0a0a" stroke="none"/><circle cx="518.1" cy="317.5" r="1.5" fill="none" stroke-width="1"/><circle cx="496.8" cy="326.8" r="1.5" fill="none" stroke-width="1"/><ellipse cx="503.4" cy="330.8" rx="1.6" ry="1.4" fill="#0a0a0a" stroke="none"/><ellipse cx="496.8" cy="334.8" rx="1.5" ry="1.3" fill="#0a0a0a" stroke="none"/><ellipse cx="503.4" cy="340.2" rx="1.6" ry="1.4" fill="#0a0a0a" stroke="none"/><ellipse cx="479.4" cy="340.2" rx="1.4" ry="1.2" fill="#0a0a0a" stroke="none"/><circle cx="475.4" cy="346.9" r="1.6" fill="none" stroke-width="1"/><circle cx="482.1" cy="348.2" r="1.6" fill="none" stroke-width="1"/><ellipse cx="491.4" cy="348.2" rx="1.8" ry="1.7" fill="#0a0a0a" stroke="none"/><ellipse cx="486.1" cy="358.9" rx="1.7" ry="1.6" fill="#0a0a0a" stroke="none"/><ellipse cx="472.7" cy="360.2" rx="1.5" ry="1.3" fill="#0a0a0a" stroke="none"/><ellipse cx="464.7" cy="361.5" rx="1.3" ry="1.1" fill="#0a0a0a" stroke="none"/><ellipse cx="466" cy="369.6" rx="1.4" ry="1.2" fill="#0a0a0a" stroke="none"/><ellipse cx="471.4" cy="372.2" rx="1.5" ry="1.3" fill="#0a0a0a" stroke="none"/><ellipse cx="476.7" cy="374.9" rx="1.4" ry="1.2" fill="#0a0a0a" stroke="none"/><ellipse cx="463.8" cy="361.7" rx="1.4" ry="1.2" fill="#0a0a0a" stroke="none"/><ellipse cx="472.4" cy="356.1" rx="1.6" ry="1.4" fill="#0a0a0a" stroke="none"/><ellipse cx="469.3" cy="368.3" rx="1.5" ry="1.3" fill="#0a0a0a" stroke="none"/><ellipse cx="477" cy="378" rx="1.5" ry="1.3" fill="#0a0a0a" stroke="none"/><ellipse cx="474" cy="381.2" rx="1.4" ry="1.2" fill="#0a0a0a" stroke="none"/><ellipse cx="443.5" cy="391.3" rx="1.6" ry="1.4" fill="#0a0a0a" stroke="none"/><ellipse cx="437.3" cy="395.2" rx="1.6" ry="1.4" fill="#0a0a0a" stroke="none"/><ellipse cx="445.9" cy="396.8" rx="1.5" ry="1.3" fill="#0a0a0a" stroke="none"/><circle cx="465.4" cy="376.5" r="1.3" fill="none" stroke-width="1"/><ellipse cx="510" cy="322" rx="1.1" ry="1" fill="#0a0a0a" stroke="none"/><circle cx="488" cy="340" r="1.3" fill="none" stroke-width="1"/><line x1="290.5" y1="248.6" x2="591" y2="250.1" stroke-width="2.16"/><line x1="295" y1="400.8" x2="590.5" y2="400.8" stroke-width="2.16"/><line x1="305" y1="248.6" x2="421" y2="401" stroke-width="2.16"/><polyline points="586.5,251 553,285 543,296 472,394" stroke-width="2.28" fill="none"/><polyline points="527,276 522.2,286.7 500.8,313.4 475.4,340.2 460.7,361.5 450,375" stroke-width="1.8" fill="none"/><circle cx="540" cy="279" r="12.5" fill="#fff" stroke="none"/><circle cx="540" cy="279" r="12.5" stroke-width="1.8" fill="none"/><line x1="527.5" y1="279" x2="552.5" y2="279" stroke-width="1.1"/><line x1="540" y1="266.5" x2="540" y2="291.5" stroke-width="1.1"/><circle cx="457.6" cy="387.4" r="10.5" fill="#fff" stroke="none"/><circle cx="457.6" cy="387.4" r="10.5" stroke-width="1.6" fill="none"/><line x1="447.1" y1="387.4" x2="468.1" y2="387.4" stroke-width="1.1"/><line x1="457.6" y1="376.9" x2="457.6" y2="397.9" stroke-width="1.1"/><polyline points="423.3,400.7 423.3,405.4 465.4,405.4 465.4,400.7" stroke-width="1.4" fill="none"/><circle cx="428.7" cy="403.5" r="1.3" fill="none" stroke-width="1"/><circle cx="442.8" cy="403.5" r="1.3" fill="none" stroke-width="1"/><circle cx="447.4" cy="403.5" r="1.3" fill="none" stroke-width="1"/><ellipse cx="460" cy="403.5" rx="1.3" ry="1.1" fill="#0a0a0a" stroke="none"/><text x="521" y="240" font-size="11" font-weight="bold" stroke="none" fill="#0a0a0a">1</text><line x1="520" y1="238.3" x2="502.3" y2="254.5" stroke-width="1.1"/><text x="558" y="238" font-size="11" font-weight="bold" stroke="none" fill="#0a0a0a">6</text><line x1="559.8" y1="239.8" x2="546.6" y2="269.3" stroke-width="1.1"/><text x="533" y="343" font-size="11" font-weight="bold" stroke="none" fill="#0a0a0a">5</text><line x1="532" y1="336.7" x2="511" y2="321.4" stroke-width="1.1"/><text x="484.5" y="421.5" font-size="11" font-weight="bold" stroke="none" fill="#0a0a0a">4</text><line x1="486" y1="412" x2="473.4" y2="400.8" stroke-width="1.1"/><text x="410" y="426" font-size="11" font-weight="bold" stroke="none" fill="#0a0a0a">3</text><line x1="418" y1="416" x2="430.5" y2="405" stroke-width="1.1"/><text x="307" y="426" font-size="11" font-weight="bold" stroke="none" fill="#0a0a0a">7</text><line x1="312" y1="412" x2="331.6" y2="395.2" stroke-width="1.1"/></svg></body></html>
